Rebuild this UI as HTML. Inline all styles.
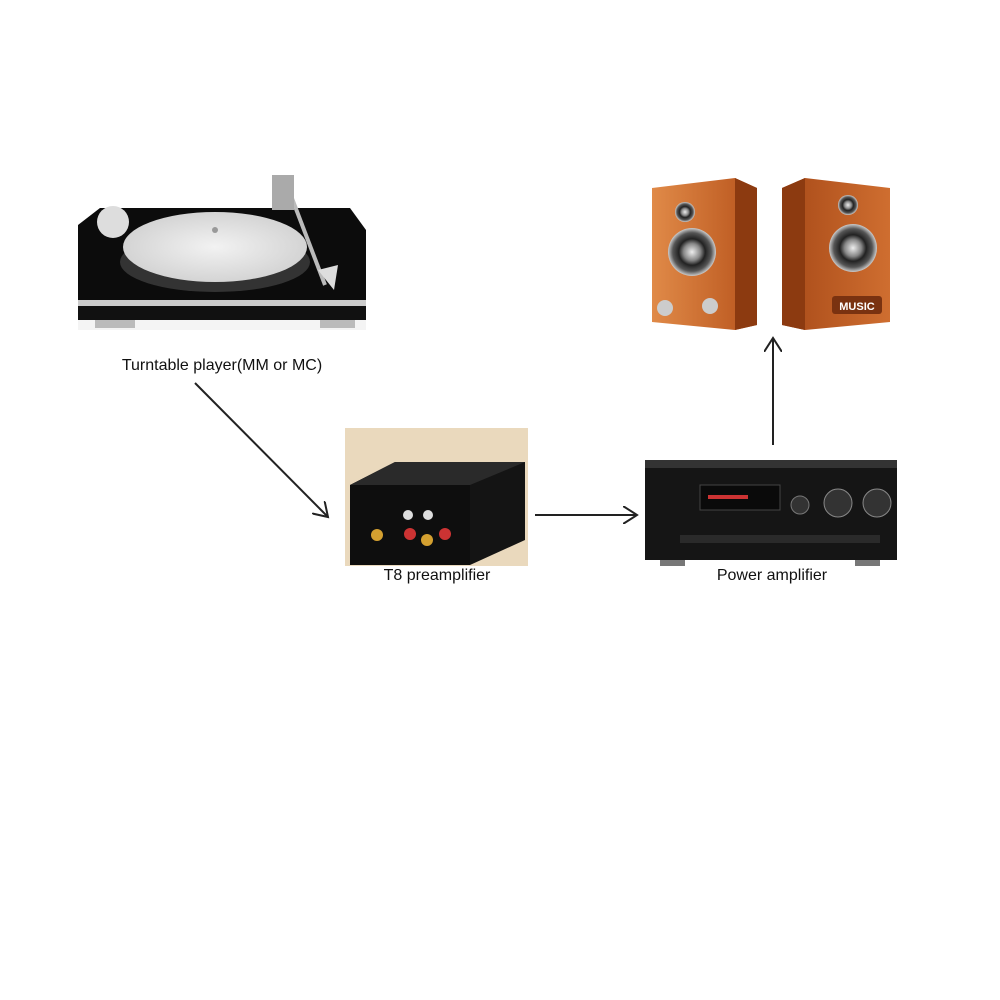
<!DOCTYPE html>
<html><head><meta charset="utf-8"><style>
html,body{margin:0;padding:0;background:#fff;width:1000px;height:1000px;overflow:hidden}
text{font-family:"Liberation Sans",sans-serif;font-size:16px;fill:#111}
</style></head><body>
<svg width="1000" height="1000" viewBox="0 0 1000 1000" xmlns="http://www.w3.org/2000/svg">
<defs>
<linearGradient id="wood" x1="0" x2="1"><stop offset="0" stop-color="#e08a48"/><stop offset="1" stop-color="#b8541c"/></linearGradient>
<linearGradient id="wood2" x1="0" x2="1"><stop offset="0" stop-color="#a84a18"/><stop offset="1" stop-color="#cf6e30"/></linearGradient>
<radialGradient id="cone"><stop offset="0" stop-color="#eee"/><stop offset="0.35" stop-color="#888"/><stop offset="0.55" stop-color="#222"/><stop offset="0.8" stop-color="#555"/><stop offset="1" stop-color="#ccc"/></radialGradient>
<radialGradient id="plat"><stop offset="0" stop-color="#f2f2f2"/><stop offset="1" stop-color="#d4d4d4"/></radialGradient>
<marker id="ah" markerWidth="16" markerHeight="18" refX="14" refY="9" orient="auto" markerUnits="userSpaceOnUse"><path d="M0,0 L14,9 L0,18" fill="none" stroke="#222" stroke-width="2"/></marker>
</defs>
<!-- Turntable -->
<rect x="78" y="290" width="288" height="40" fill="#f4f4f4"/>
<path d="M100,208 L350,208 L366,230 L366,305 L78,305 L78,225 Z" fill="#0c0c0c"/>
<rect x="78" y="300" width="288" height="6" fill="#ccc"/>
<rect x="78" y="306" width="288" height="14" fill="#111"/>
<rect x="95" y="320" width="40" height="8" fill="#bbb"/><rect x="320" y="320" width="35" height="8" fill="#bbb"/>
<ellipse cx="215" cy="262" rx="95" ry="30" fill="#333"/>
<ellipse cx="215" cy="247" rx="92" ry="35" fill="url(#plat)"/>
<circle cx="215" cy="230" r="3" fill="#999"/>
<circle cx="113" cy="222" r="16" fill="#ddd"/>
<line x1="285" y1="180" x2="325" y2="285" stroke="#bbb" stroke-width="4"/>
<rect x="272" y="175" width="22" height="35" fill="#aaa"/>
<path d="M318,270 L338,265 L334,290 Z" fill="#ddd"/>
<text x="222" y="370" text-anchor="middle">Turntable player(MM or MC)</text>
<!-- Preamp -->
<rect x="345" y="428" width="183" height="138" fill="#ead9bd"/>
<path d="M350,485 L395,462 L525,462 L525,540 L470,565 L350,565 Z" fill="#141414"/>
<path d="M350,485 L395,462 L525,462 L470,485 Z" fill="#2a2a2a"/>
<rect x="350" y="485" width="120" height="80" fill="#0e0e0e"/>
<circle cx="377" cy="535" r="6" fill="#d4a030"/><circle cx="410" cy="534" r="6" fill="#c33"/><circle cx="427" cy="540" r="6" fill="#d4a030"/><circle cx="445" cy="534" r="6" fill="#c33"/>
<circle cx="408" cy="515" r="5" fill="#ddd"/><circle cx="428" cy="515" r="5" fill="#ddd"/>
<text x="437" y="580" text-anchor="middle">T8  preamplifier</text>
<!-- Amp -->
<rect x="645" y="460" width="252" height="100" fill="#151515"/>
<rect x="645" y="460" width="252" height="8" fill="#333"/>
<rect x="700" y="485" width="80" height="25" fill="#0a0a0a" stroke="#444"/>
<rect x="708" y="495" width="40" height="4" fill="#c33"/>
<circle cx="800" cy="505" r="9" fill="#333" stroke="#777"/><circle cx="838" cy="503" r="14" fill="#333" stroke="#888"/><circle cx="877" cy="503" r="14" fill="#333" stroke="#888"/>
<rect x="680" y="535" width="200" height="8" fill="#2a2a2a"/>
<rect x="660" y="560" width="25" height="6" fill="#777"/><rect x="855" y="560" width="25" height="6" fill="#777"/>
<text x="772" y="580" text-anchor="middle">Power amplifier</text>
<!-- Speakers -->
<path d="M652,188 L735,178 L757,188 L757,325 L735,330 L652,322 Z" fill="url(#wood)"/>
<path d="M735,178 L757,188 L757,325 L735,330 Z" fill="#8c3a10"/>
<circle cx="685" cy="212" r="10" fill="url(#cone)"/>
<circle cx="692" cy="252" r="24" fill="url(#cone)"/>
<circle cx="665" cy="308" r="8" fill="#ccc"/><circle cx="710" cy="306" r="8" fill="#ccc"/>
<path d="M782,188 L805,178 L890,188 L890,322 L805,330 L782,325 Z" fill="url(#wood2)"/>
<path d="M782,188 L805,178 L805,330 L782,325 Z" fill="#8c3a10"/>
<circle cx="848" cy="205" r="10" fill="url(#cone)"/>
<circle cx="853" cy="248" r="24" fill="url(#cone)"/>
<rect x="832" y="296" width="50" height="18" rx="3" fill="#7a3210"/>
<text x="857" y="310" text-anchor="middle" style="font-size:11px;fill:#fff;font-weight:bold">MUSIC</text>
<!-- Arrows -->
<line x1="195" y1="383" x2="328" y2="517" stroke="#222" stroke-width="2" marker-end="url(#ah)"/>
<line x1="535" y1="515" x2="637" y2="515" stroke="#222" stroke-width="2" marker-end="url(#ah)"/>
<line x1="773" y1="445" x2="773" y2="338" stroke="#222" stroke-width="2" marker-end="url(#ah)"/>
</svg>
</body></html>
